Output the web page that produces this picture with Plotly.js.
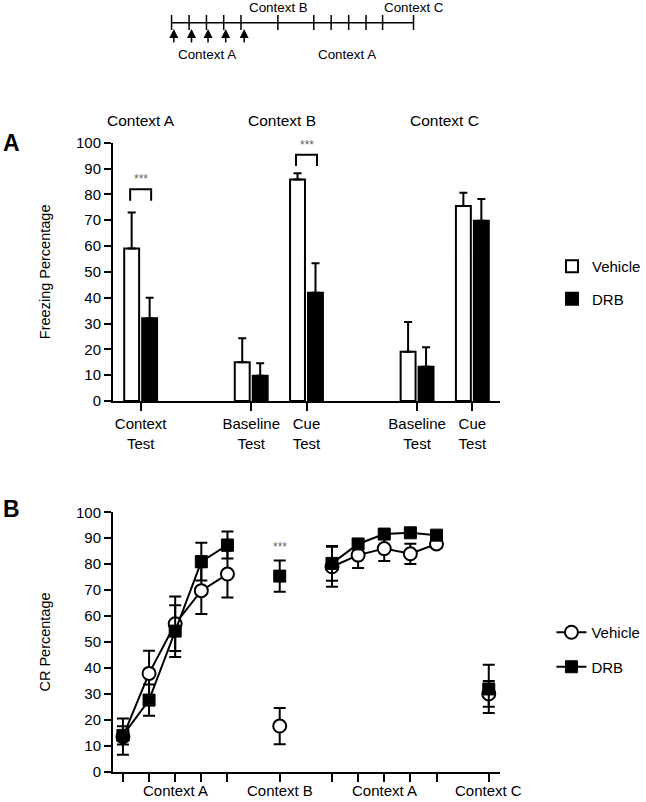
<!DOCTYPE html>
<html>
<head>
<meta charset="utf-8">
<script src="https://cdn.plot.ly/plotly-3.0.1.min.js"></script>
<style>html,body{margin:0;padding:0;background:#fff;}#chart{width:646px;height:802px;}</style>
</head>
<body>
<div id="chart"></div>
<script>
// ---------- Panel A data ----------
const aPositions = [0, 2, 3, 5, 6];
const aTickText = ['Context<br>Test', 'Baseline<br>Test', 'Cue<br>Test', 'Baseline<br>Test', 'Cue<br>Test'];
const aVehicle = [59, 15, 85.8, 19.1, 75.5];
const aVehicleErr = [14, 9.3, 2.4, 11.5, 5.1];
const aDRB = [32, 9.8, 41.9, 13.3, 69.8];
const aDRBErr = [8, 4.8, 11.4, 7.5, 8.4];
const aGroupTitles = ['Context A', 'Context B', 'Context C'];
const aGroupTitlePos = [0, 2.55, 5.5];

// ---------- Panel B data ----------
const bPositions = [1, 2, 3, 4, 5, 6, 7, 8, 9, 10, 11, 12, 13, 14, 15];
const bVehicle = [13.5, 37.9, 57, 69.8, 76.2, null, 17.6, null, 79, 83.5, 86, 84, 87.8, null, 30];
const bVehicleErr = [7, 8.7, 10.5, 9, 9, null, 7, null, 7.7, 5, 4.8, 3.9, 1.5, null, 5];
const bDRB = [14, 27.6, 54.2, 81, 87.4, null, 75.4, null, 80.3, 87.8, 91.6, 92.1, 91.2, null, 31.9];
const bDRBErr = [3.5, 6, 10, 7.3, 5.2, null, 6, null, 6.7, 1.5, 1.5, 1.5, 1.5, null, 9.3];
const bTickVals = [1, 2, 3, 4, 5, 7, 9, 10, 11, 12, 13, 15];
const bLabelVals = [3, 7, 11, 15];
const bLabelText = ['Context A', 'Context B', 'Context A', 'Context C'];

// ---------- Schematic (timeline) ----------
const schedTicks = [171.7, 189.3, 206.7, 224, 241.3, 278.3, 314.3, 331.7, 349.3, 366.7, 383.3, 414.3];
const schedArrows = [174, 191.7, 208.3, 226, 244.5];
const schedLabels = [
  {text: 'Context B', x: 278.5, y: 7},
  {text: 'Context C', x: 414.5, y: 7},
  {text: 'Context A', x: 207, y: 54},
  {text: 'Context A', x: 348, y: 54}
];

const FONT = 'Liberation Sans, Arial, Helvetica, sans-serif';
const H = 802;
const py = p => 1 - p / H; // pixel-from-top to paper

const traces = [
  {
    type: 'bar', name: 'Vehicle', x: aPositions, y: aVehicle,
    xaxis: 'x', yaxis: 'y', legend: 'legend', legendgroup: 'av',
    marker: {color: '#ffffff', line: {color: '#000', width: 2}},
    error_y: {type: 'data', array: aVehicleErr, arrayminus: aVehicleErr.map(() => 0), symmetric: false, color: '#000', thickness: 2, width: 4}
  },
  {
    type: 'bar', name: 'DRB', x: aPositions, y: aDRB,
    xaxis: 'x', yaxis: 'y', legend: 'legend', legendgroup: 'ad',
    marker: {color: '#000000', line: {color: '#000', width: 2}},
    error_y: {type: 'data', array: aDRBErr, arrayminus: aDRBErr.map(() => 0), symmetric: false, color: '#000', thickness: 2, width: 4}
  },
  {
    type: 'scatter', mode: 'lines+markers', name: 'Vehicle', x: bPositions, y: bVehicle,
    xaxis: 'x2', yaxis: 'y2', legend: 'legend2', legendgroup: 'bv', connectgaps: false,
    line: {color: '#000', width: 2},
    marker: {symbol: 'circle', size: 13, color: '#fff', line: {color: '#000', width: 2}},
    error_y: {type: 'data', array: bVehicleErr, color: '#000', thickness: 2, width: 6}
  },
  {
    type: 'scatter', mode: 'lines+markers', name: 'DRB', x: bPositions, y: bDRB,
    xaxis: 'x2', yaxis: 'y2', legend: 'legend2', legendgroup: 'bd', connectgaps: false,
    line: {color: '#000', width: 2},
    marker: {symbol: 'square', size: 12, color: '#000', line: {color: '#000', width: 1}},
    error_y: {type: 'data', array: bDRBErr, color: '#000', thickness: 2, width: 6}
  }
];

const shapes = [];
const annotations = [];

// schematic
shapes.push({type: 'line', xref: 'x3', yref: 'y3', x0: schedTicks[0], x1: schedTicks[schedTicks.length - 1], y0: 22.7, y1: 22.7, line: {color: '#000', width: 1.5}});
schedTicks.forEach(t => shapes.push({type: 'line', xref: 'x3', yref: 'y3', x0: t, x1: t, y0: 15, y1: 30, line: {color: '#000', width: 1.5}}));
schedArrows.forEach(t => annotations.push({xref: 'x3', yref: 'y3', axref: 'x3', ayref: 'y3', x: t, y: 29, ax: t, ay: 44, text: '', showarrow: true, arrowhead: 2, arrowsize: 1.2, arrowwidth: 1.5, arrowcolor: '#000'}));
schedLabels.forEach(l => annotations.push({xref: 'x3', yref: 'y3', x: l.x, y: l.y, text: l.text, showarrow: false, font: {family: FONT, size: 13.4, color: '#000'}, xanchor: 'center', yanchor: 'middle'}));

// Panel A group titles
aGroupTitles.forEach((t, i) => annotations.push({xref: 'x', yref: 'paper', x: aGroupTitlePos[i], y: py(120), text: t, showarrow: false, font: {family: FONT, size: 15.5, color: '#000'}, xanchor: 'center', yanchor: 'middle'}));

// Significance brackets in panel A
const brackets = [{x: 0, lo: 77.5, hi: 82}, {x: 3, lo: 91, hi: 95.3}];
brackets.forEach(b => {
  shapes.push({type: 'path', xref: 'x', yref: 'y', path: `M ${b.x - 0.19} ${b.lo} L ${b.x - 0.19} ${b.hi} L ${b.x + 0.19} ${b.hi} L ${b.x + 0.19} ${b.lo}`, line: {color: '#000', width: 2}});
  annotations.push({xref: 'x', yref: 'y', x: b.x, y: b.hi, yshift: 1, text: '***', showarrow: false, font: {family: FONT, size: 12, color: '#666'}, xanchor: 'center', yanchor: 'bottom'});
});
// star in panel B
annotations.push({xref: 'x2', yref: 'y2', x: 7, y: 83, text: '***', showarrow: false, font: {family: FONT, size: 12, color: '#666'}, xanchor: 'center', yanchor: 'bottom'});

// Panel letters
annotations.push({xref: 'paper', yref: 'paper', x: -0.289, y: py(143), text: '<b>A</b>', showarrow: false, font: {family: FONT, size: 23, color: '#000'}, xanchor: 'left', yanchor: 'middle'});
annotations.push({xref: 'paper', yref: 'paper', x: -0.289, y: py(509), text: '<b>B</b>', showarrow: false, font: {family: FONT, size: 23, color: '#000'}, xanchor: 'left', yanchor: 'middle'});

const axCommon = {showline: true, linecolor: '#000', linewidth: 2, ticks: 'outside', tickcolor: '#000', tickwidth: 2, showgrid: false, zeroline: false, tickfont: {family: FONT, size: 15, color: '#000'}};

const layout = {
  width: 646, height: 802,
  margin: {l: 113, r: 145, t: 0, b: 0},
  paper_bgcolor: '#fff', plot_bgcolor: 'rgba(0,0,0,0)',
  font: {family: FONT, color: '#000'},
  barmode: 'group', bargap: 0.35, bargroupgap: 0.17,
  xaxis: Object.assign({}, axCommon, {domain: [0, 1], range: [-0.5, 6.5], tickvals: aPositions, ticktext: aTickText, ticklen: 8, anchor: 'y'}),
  yaxis: Object.assign({}, axCommon, {domain: [py(401), py(142.7)], range: [0, 100], dtick: 10, ticklen: 7, anchor: 'x',
    title: {text: 'Freezing Percentage', font: {family: FONT, size: 14.5, color: '#000'}, standoff: 22}}),
  xaxis2: Object.assign({}, axCommon, {domain: [0, 1], range: [0.62, 15.43], tickvals: bTickVals, ticktext: bTickVals.map(() => ''), ticklen: 8, anchor: 'y2'}),
  yaxis2: Object.assign({}, axCommon, {domain: [py(771.7), py(512.3)], range: [0, 100], dtick: 10, ticklen: 7, anchor: 'x2',
    title: {text: 'CR Percentage', font: {family: FONT, size: 14.5, color: '#000'}, standoff: 22}}),
  xaxis3: {domain: [0, 1], range: [113, 501], visible: false, anchor: 'y3', fixedrange: true},
  yaxis3: {domain: [py(64), 1], range: [64, 0], visible: false, anchor: 'x3', fixedrange: true},
  showlegend: true,
  legend: {x: 1.134, y: py(250), xanchor: 'left', yanchor: 'top', tracegroupgap: 10, font: {family: FONT, size: 15, color: '#000'}, bgcolor: 'rgba(0,0,0,0)'},
  legend2: {x: 1.13, y: py(616), xanchor: 'left', yanchor: 'top', tracegroupgap: 12, font: {family: FONT, size: 15, color: '#000'}, bgcolor: 'rgba(0,0,0,0)'},
  shapes: shapes,
  annotations: annotations
};

// panel B group labels as annotations under ticks
bLabelVals.forEach((v, i) => annotations.push({xref: 'x2', yref: 'paper', x: v, y: py(801), text: bLabelText[i], showarrow: false, font: {family: FONT, size: 15, color: '#000'}, xanchor: 'center', yanchor: 'bottom'}));

Plotly.newPlot('chart', traces, layout, {displayModeBar: false, staticPlot: true});
</script>
</body>
</html>
